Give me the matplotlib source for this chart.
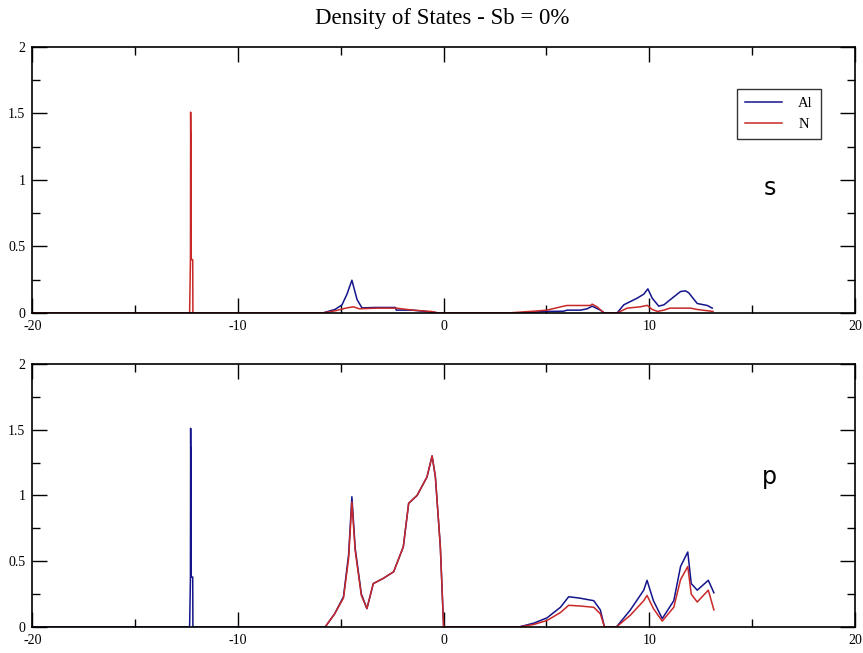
import numpy as np
import matplotlib
matplotlib.use('Agg')
import matplotlib.pyplot as plt
from matplotlib.ticker import MultipleLocator

plt.rcParams['font.family'] = ['Liberation Serif', 'DejaVu Serif']

title = 'Density of States - Sb = 0%'
series_names = ['Al', 'N']
x_ticks = [-20, -10, 0, 10, 20]
x_labels = ['-20', '-10', '0', '10', '20']
y_ticks = [0, 0.5, 1, 1.5, 2]
y_labels = ['0', '0.5', '1', '1.5', '2']

# s orbital -- energies (eV) and DOS
s_al_e = [-20, -5.84, -5.27, -4.94, -4.70, -4.46, -4.21, -3.97, -3.32, -2.35, -2.30, -1.54, -0.89, -0.3,
          3.73, 5.03, 5.84, 6.0, 6.65, 6.98, 7.22, 7.62, 7.80,
          8.44, 8.76, 9.41, 9.73, 9.93, 10.14, 10.46, 10.71, 11.11, 11.52, 11.76, 11.92, 12.33, 12.82, 13.06]
s_al_v = [0, 0, 0.026, 0.06, 0.14, 0.245, 0.10, 0.037, 0.04, 0.04, 0.02, 0.02, 0.01, 0,
          0, 0.01, 0.012, 0.02, 0.02, 0.03, 0.05, 0.02, 0,
          0, 0.06, 0.11, 0.14, 0.18, 0.11, 0.05, 0.06, 0.11, 0.16, 0.165, 0.15, 0.07, 0.055, 0.035]

s_n_e = [-20, -12.35, -12.31, -12.30, -12.29, -12.28, -12.27, -12.20, -12.19,
         -5.84, -5.27, -4.70, -4.38, -4.10, -3.2, -2.3, -1.5, -0.6, -0.3,
         3.25, 4.38, 5.03, 5.84, 6.0, 7.14, 7.22, 7.46, 7.79,
         8.44, 8.93, 9.57, 9.90, 10.14, 10.40, 10.71, 11.0, 12.0, 12.33, 13.1]
s_n_v = [0, 0, 0.40, 1.51, 1.25, 1.35, 0.40, 0.40, 0,
         0, 0.015, 0.037, 0.045, 0.03, 0.035, 0.035, 0.02, 0.01, 0,
         0, 0.012, 0.02, 0.05, 0.055, 0.055, 0.065, 0.045, 0,
         0, 0.035, 0.045, 0.056, 0.025, 0.01, 0.02, 0.035, 0.035, 0.025, 0.01]

# p orbital
p_al_e = [-20, -12.35, -12.31, -12.30, -12.29, -12.28, -12.27, -12.20, -12.19,
          -5.76, -5.3, -4.87, -4.62, -4.46, -4.3, -4.0, -3.73, -3.42, -2.93, -2.43, -1.96, -1.70,
          -1.29, -0.81, -0.56, -0.40, -0.16, 0.0,
          3.65, 4.4, 5.03, 5.68, 6.08, 6.6, 7.30, 7.62, 7.82,
          8.40, 9.08, 9.73, 9.89, 10.2, 10.63, 11.19, 11.52, 11.87, 12.04, 12.33, 12.87, 13.14]
p_al_v = [0, 0, 0.38, 1.51, 1.18, 1.36, 0.38, 0.38, 0,
          0, 0.1, 0.23, 0.55, 0.99, 0.6, 0.25, 0.14, 0.33, 0.37, 0.42, 0.61, 0.94,
          1.0, 1.14, 1.30, 1.14, 0.61, 0,
          0, 0.03, 0.07, 0.15, 0.23, 0.22, 0.20, 0.13, 0,
          0, 0.13, 0.28, 0.355, 0.2, 0.064, 0.2, 0.46, 0.57, 0.33, 0.28, 0.355, 0.26]

p_n_e = [-5.76, -5.3, -4.87, -4.62, -4.46, -4.3, -4.0, -3.73, -3.42, -2.93, -2.43, -1.96, -1.70,
         -1.29, -0.81, -0.56, -0.40, -0.16, 0.0,
         3.65, 4.4, 5.03, 5.68, 6.08, 6.6, 7.30, 7.62, 7.82,
         8.40, 9.08, 9.73, 9.89, 10.2, 10.63, 11.19, 11.52, 11.87, 12.04, 12.33, 12.87, 13.14]
p_n_v = [0, 0.1, 0.22, 0.52, 0.95, 0.58, 0.24, 0.14, 0.33, 0.37, 0.42, 0.61, 0.94,
         1.0, 1.14, 1.30, 1.14, 0.61, 0,
         0, 0.02, 0.05, 0.11, 0.165, 0.16, 0.15, 0.10, 0,
         0, 0.09, 0.2, 0.24, 0.14, 0.045, 0.15, 0.36, 0.46, 0.25, 0.19, 0.28, 0.13]

blue = '#14148c'
red = '#c82828'

fig = plt.figure(figsize=(8.63, 6.53), dpi=100)
ax1 = fig.add_axes([0.0374, 0.521, 0.9533, 0.407])
ax2 = fig.add_axes([0.0374, 0.0398, 0.9533, 0.403])

fig.text(0.512, 0.972, title, ha='center', va='center', fontsize=16.5)

ax1.plot(s_al_e, s_al_v, color=blue, lw=1.1, label=series_names[0])
ax1.plot(s_n_e, s_n_v, color=red, lw=1.1, label=series_names[1])
ax2.plot(p_al_e, p_al_v, color=blue, lw=1.1)
ax2.plot(p_n_e, p_n_v, color=red, lw=1.1)

for ax, lab, ly in [(ax1, 's', 0.94), (ax2, 'p', 1.14)]:
    ax.set_xlim(-20, 20)
    ax.set_ylim(0, 2)
    ax.set_xticks(x_ticks)
    ax.set_xticklabels(x_labels)
    ax.set_yticks(y_ticks)
    ax.set_yticklabels(y_labels)
    ax.xaxis.set_minor_locator(MultipleLocator(5))
    ax.yaxis.set_minor_locator(MultipleLocator(0.25))
    ax.tick_params(which='both', direction='in', top=True, right=True, labelsize=10, width=1)
    ax.tick_params(which='major', length=11)
    ax.tick_params(which='minor', length=5.5)
    ax.tick_params(axis='x', pad=5)
    ax.tick_params(axis='y', pad=5)
    for sp in ax.spines.values():
        sp.set_linewidth(1.2)
    ax.text(15.85, ly, lab, fontsize=17, family='DejaVu Sans', ha='center', va='center')

ax1.legend(loc='upper right', bbox_to_anchor=(0.9587, 0.842), fontsize=10.5, frameon=True,
           fancybox=False, edgecolor='black', handlelength=2.5, borderpad=0.55,
           labelspacing=0.5, handletextpad=1.15, borderaxespad=0)
ax1.get_legend().get_frame().set_linewidth(1)

fig.savefig('out.png', dpi=100)
